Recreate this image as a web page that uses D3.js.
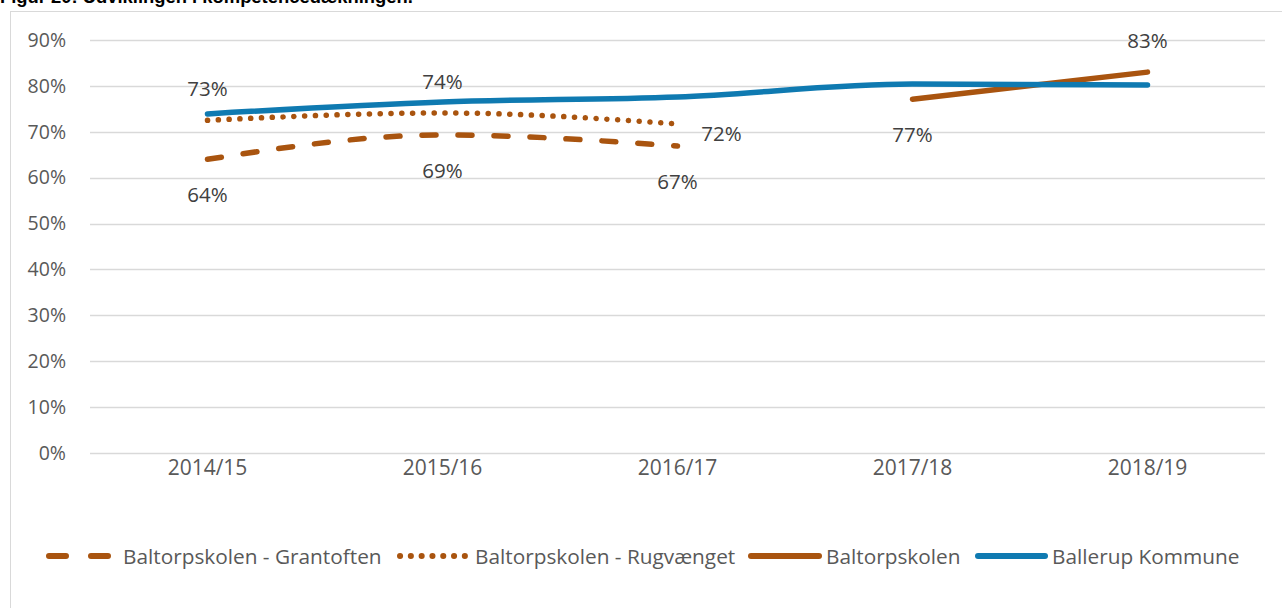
<!DOCTYPE html>
<html>
<head>
<meta charset="utf-8">
<script src="https://d3js.org/d3.v7.min.js"></script>
<style>
body { margin:0; background:#fff; }
svg { display:block; }
</style>
</head>
<body>
<svg id="chart"></svg>
<script>
// data
var categories = ['2014/15', '2015/16', '2016/17', '2017/18', '2018/19'];
var grantoften = [0.640, 0.693, 0.669, null, null];
var rugvaenget = [0.725, 0.741, 0.717, null, null];
var baltorp = [null, null, null, 0.771, 0.830];
var ballerup = [0.739, 0.765, 0.776, 0.804, 0.802];
var yTicks = [0, 0.1, 0.2, 0.3, 0.4, 0.5, 0.6, 0.7, 0.8, 0.9];

var brown = '#A9540F', blue = '#0F7AB1';

var series = [
    { name: 'Baltorpskolen - Grantoften', values: grantoften, color: brown, dash: '14,22', legDash: '17,25', cap: 'round', labels: ['below', 'below', 'below'] },
    { name: 'Baltorpskolen - Rugvænget', values: rugvaenget, color: brown, dash: '0.1,10.7', legDash: '0.1,10.7', cap: 'round', labels: ['above', 'above', 'right'] },
    { name: 'Baltorpskolen', values: baltorp, color: brown, dash: null, legDash: null, cap: 'round', labels: [null, null, null, 'below', 'above'] },
    { name: 'Ballerup Kommune', values: ballerup, color: blue, dash: null, legDash: null, cap: 'round', labels: [] }
];

var W = 1282, H = 608;
var svg = d3.select('#chart').attr('width', W).attr('height', H);

// chart frame
svg.append('rect').attr('x', 10.5).attr('y', 11.5).attr('width', 1300).attr('height', 700)
    .attr('fill', 'none').attr('stroke', '#d9d9d9');

// title, clipped by top of page like the source
svg.append('text').attr('x', 0).attr('y', 3)
    .style('font-family', 'Liberation Sans, Arial, sans-serif').style('font-weight', 'bold').style('font-size', '18.4px')
    .attr('fill', '#000')
    .text('Figur 20: Udviklingen i kompetencedækningen.');

var x = d3.scaleBand().domain(categories).range([90, 1265]);
var y = d3.scaleLinear().domain([0, 0.9]).range([453, 40]);
var fmt = d3.format('.0%');
var font = 'Open Sans, sans-serif';

// gridlines
svg.append('g').selectAll('line').data(yTicks).enter().append('line')
    .attr('x1', 90).attr('x2', 1265)
    .attr('y1', function (d) { return Math.round(y(d)) + 0.5; })
    .attr('y2', function (d) { return Math.round(y(d)) + 0.5; })
    .attr('stroke', '#d9d9d9').attr('stroke-width', 1.3);

// y axis labels
var yAxis = svg.append('g').attr('transform', 'translate(66,0)')
    .call(d3.axisLeft(y).tickValues(yTicks).tickFormat(fmt).tickSize(0).tickPadding(0));
yAxis.select('.domain').remove();
yAxis.selectAll('text').style('font-family', font).style('font-size', '19.5px').attr('fill', '#595959');

// x axis labels
var xAxis = svg.append('g').attr('transform', 'translate(0,460)')
    .call(d3.axisBottom(x).tickSize(0).tickPadding(0));
xAxis.select('.domain').remove();
xAxis.selectAll('text').style('font-family', font).style('font-size', '21px').attr('fill', '#595959');

var line = d3.line()
    .defined(function (d) { return d != null; })
    .x(function (d, i) { return x(categories[i]) + x.bandwidth() / 2; })
    .y(function (d) { return y(d); })
    .curve(d3.curveMonotoneX);

series.forEach(function (s) {
    svg.append('path').datum(s.values)
        .attr('d', line)
        .attr('fill', 'none')
        .attr('stroke', s.color)
        .attr('stroke-width', 5.5)
        .attr('stroke-linecap', s.cap)
        .attr('stroke-dasharray', s.dash);
});

// data labels
series.forEach(function (s) {
    s.values.forEach(function (v, i) {
        var pos = s.labels[i];
        if (v == null || !pos) return;
        var cx = x(categories[i]) + x.bandwidth() / 2, cy = y(v);
        var t = svg.append('text')
            .style('font-family', font).style('font-size', '20.5px').attr('fill', '#404040')
            .attr('text-anchor', 'middle').attr('dominant-baseline', 'central')
            .text(fmt(v));
        if (pos === 'below') t.attr('x', cx).attr('y', cy + 35);
        else if (pos === 'above') t.attr('x', cx).attr('y', cy - 32);
        else t.attr('x', cx + 44).attr('y', cy + 9);
    });
});

// legend
var legLine = [[49, 108], [400, 467], [751, 819], [978, 1045]];
var legText = [123, 475, 826, 1052];
var leg = svg.append('g').attr('transform', 'translate(0,556)');
series.forEach(function (s, i) {
    leg.append('line').attr('x1', legLine[i][0]).attr('x2', legLine[i][1])
        .attr('stroke', s.color).attr('stroke-width', 6)
        .attr('stroke-linecap', s.cap)
        .attr('stroke-dasharray', s.legDash);
    leg.append('text').attr('x', legText[i]).attr('dominant-baseline', 'central')
        .style('font-family', font).style('font-size', '20.8px').attr('fill', '#595959')
        .text(s.name);
});
</script>
</body>
</html>
